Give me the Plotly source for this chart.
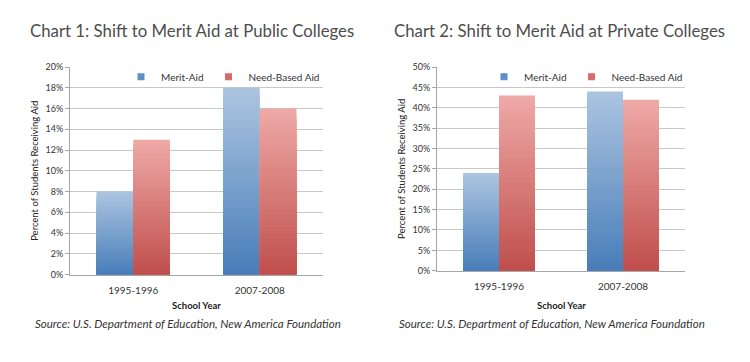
import plotly.graph_objects as go

# ---- data ----
years = ["1995-1996", "2007-2008"]
public_merit = [0.08, 0.18]
public_need = [0.13, 0.16]
private_merit = [0.24, 0.44]
private_need = [0.43, 0.42]

series_names = ["Merit-Aid", "Need-Based Aid"]
titles = ["Chart 1: Shift to Merit Aid at Public Colleges",
          "Chart 2: Shift to Merit Aid at Private Colleges"]
source_text = "Source: U.S. Department of Education, New America Foundation"
y_title = "Percent of Students Receiving Aid"
x_title = "School Year"

# ---- styles ----
W, H = 750, 362
FONT = "Lato"
N = 28  # gradient steps
grad = {
    "Merit-Aid": ((170, 196, 224), (74, 126, 186)),
    "Need-Based Aid": ((238, 168, 166), (192, 80, 77)),
}
legend_col = {"Merit-Aid": "#5f8fc6", "Need-Based Aid": "#d86a67"}
BAR_W = 0.29


def px_x(x):
    return x / W


def px_y(y):
    return 1 - y / H


def mix(c1, c2, t):
    return "rgb(%d,%d,%d)" % tuple(round(a + (b - a) * t) for a, b in zip(c1, c2))


fig = go.Figure()

charts = [
    dict(merit=public_merit, need=public_need, xa="x", ya="y", legend="legend"),
    dict(merit=private_merit, need=private_need, xa="x2", ya="y2", legend="legend2"),
]

for ch in charts:
    for name, vals, off in [("Merit-Aid", ch["merit"], -BAR_W), ("Need-Based Aid", ch["need"], 0.0)]:
        top, bot = grad[name]
        for k in range(N):
            frac = (N - k) / N
            t = k / (N - 1)
            fig.add_trace(go.Bar(
                x=years, y=[v * frac for v in vals],
                name=name, legend=ch["legend"],
                xaxis=ch["xa"], yaxis=ch["ya"],
                width=BAR_W, offset=off,
                marker=dict(color=mix(top, bot, t), line=dict(width=0)),
                showlegend=False, hoverinfo="skip",
            ))
        # legend entry (small square swatch)
        fig.add_trace(go.Scatter(
            x=[None], y=[None], name=name, legend=ch["legend"],
            xaxis=ch["xa"], yaxis=ch["ya"], mode="markers",
            marker=dict(symbol="square", size=7, color=legend_col[name]),
            showlegend=True,
        ))

# plot areas (pixels)
p1 = dict(l=70, r=323, t=63, b=277)
p2 = dict(l=437, r=685, t=63, b=273)

axis_common = dict(showline=True, linecolor="#a6a6a6", linewidth=1)
yaxis_common = dict(
    axis_common, tickformat=".0%", showgrid=True, gridcolor="#c8c8c8", gridwidth=1,
    ticks="outside", ticklen=4, tickcolor="#a6a6a6",
    tickfont=dict(family=FONT, size=9, color="#333333"), zeroline=False,
)
xaxis_common = dict(
    axis_common, type="category", ticks="", showgrid=False,
    tickfont=dict(family=FONT, size=10, color="#333333"), ticklabelstandoff=6,
)

fig.update_layout(
    width=W, height=H,
    margin=dict(l=0, r=0, t=0, b=0),
    paper_bgcolor="white", plot_bgcolor="white",
    barmode="overlay",
    font=dict(family=FONT, color="#333333"),
    xaxis=dict(xaxis_common, domain=[px_x(p1["l"]), px_x(p1["r"])], anchor="y"),
    yaxis=dict(yaxis_common, domain=[px_y(p1["b"]), px_y(p1["t"])], anchor="x",
               range=[0, 0.20], dtick=0.02),
    xaxis2=dict(xaxis_common, domain=[px_x(p2["l"]), px_x(p2["r"])], anchor="y2"),
    yaxis2=dict(yaxis_common, domain=[px_y(p2["b"]), px_y(p2["t"])], anchor="x2",
                range=[0, 0.50], dtick=0.05),
    legend=dict(orientation="h", x=px_x(325), xanchor="right", y=px_y(73), yanchor="middle",
                font=dict(family=FONT, size=10, color="#333333"), bgcolor="rgba(0,0,0,0)",
                itemwidth=30, tracegroupgap=0),
    legend2=dict(orientation="h", x=px_x(688), xanchor="right", y=px_y(73), yanchor="middle",
                 font=dict(family=FONT, size=10, color="#333333"), bgcolor="rgba(0,0,0,0)",
                 itemwidth=30, tracegroupgap=0),
)

ann = []
for i, (p, tx) in enumerate([(p1, 28), (p2, 392)]):
    ann.append(dict(text=titles[i], x=px_x(tx), y=px_y(25), xref="paper", yref="paper",
                    xanchor="left", yanchor="middle", showarrow=False,
                    font=dict(family=FONT, size=16.8, color="#4d4d4d")))
    ann.append(dict(text=y_title, x=px_x(p["l"] - 35), y=px_y((p["t"] + p["b"]) / 2),
                    xref="paper", yref="paper", textangle=-90, showarrow=False,
                    xanchor="center", yanchor="middle",
                    font=dict(family=FONT, size=9.5, color="#222222")))
    ann.append(dict(text="<b>" + x_title + "</b>", x=px_x((p["l"] + p["r"]) / 2), y=px_y(309),
                    xref="paper", yref="paper", showarrow=False,
                    xanchor="center", yanchor="middle",
                    font=dict(family=FONT, size=9.5, color="#222222")))
    ann.append(dict(text="<i>" + source_text + "</i>", x=px_x(tx + 5), y=px_y(327),
                    xref="paper", yref="paper", showarrow=False,
                    xanchor="left", yanchor="middle",
                    font=dict(family=FONT, size=11.5, color="#333333")))
fig.update_layout(annotations=ann)

fig.write_html("out.html", config={"displayModeBar": False},
               post_script="document.body.style.margin='0';")
